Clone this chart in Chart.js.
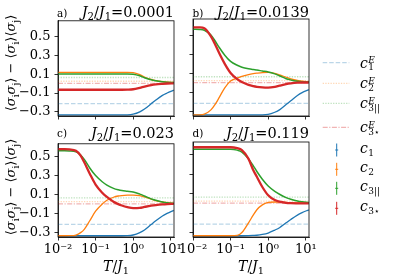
<!DOCTYPE html>
<html>
<head>
<meta charset="utf-8">
<script src="https://cdn.jsdelivr.net/npm/chart.js@4.4.1/dist/chart.umd.min.js"></script>
<style>
body { margin: 0; background: #fff; }
#fig { position: relative; width: 399px; height: 279px; overflow: hidden; font-family: 'DejaVu Serif', serif; color: #000; }
canvas { position: absolute; }
.t { position: absolute; white-space: nowrap; line-height: 1; }
.t sub { font-size: 0.7em; vertical-align: baseline; position: relative; top: 0.3em; font-style: normal; }
.ylab { position: absolute; width: 130px; height: 16px; line-height: 16px; text-align: center; font-size: 13px; transform: rotate(-90deg); white-space: nowrap; }
.xlab { position: absolute; width: 60px; text-align: center; font-size: 14px; line-height: 1; }
.lg { position: absolute; left: 360px; font-size: 14px; line-height: 1; white-space: nowrap; }
.st { position: relative; display: inline-block; width: 14px; height: 10px; }
.st span { position: absolute; left: 0.5px; font-size: 9px; line-height: 1; }
.st .u { top: -1.6px; font-style: italic; }
.st .d { top: 5.6px; font-style: normal; }
</style>
</head>
<body>
<div id="fig">
  <canvas id="pa"></canvas>
  <canvas id="pb"></canvas>
  <canvas id="pc"></canvas>
  <canvas id="pd"></canvas>
  <canvas id="leg" width="89" height="180" style="left:310px;top:40px"></canvas>

  <div class="t" style="left:57px;top:7.8px;font-size:10.5px">a)</div>
  <div class="t" style="right:225px;top:4.8px;font-size:14.5px"><i>J</i><sub>2</sub>/<i>J</i><sub>1</sub>=0.0001</div>
  <div class="t" style="left:192.5px;top:7.8px;font-size:10.5px">b)</div>
  <div class="t" style="right:90px;top:4.8px;font-size:14.5px"><i>J</i><sub>2</sub>/<i>J</i><sub>1</sub>=0.0139</div>
  <div class="t" style="left:57px;top:128px;font-size:10.5px">c)</div>
  <div class="t" style="right:225px;top:126.2px;font-size:14.5px"><i>J</i><sub>2</sub>/<i>J</i><sub>1</sub>=0.023</div>
  <div class="t" style="left:192.5px;top:128px;font-size:10.5px">d)</div>
  <div class="t" style="right:90px;top:126.2px;font-size:14.5px"><i>J</i><sub>2</sub>/<i>J</i><sub>1</sub>=0.119</div>

  <div class="ylab" style="left:-54.5px;top:55px">⟨<i>σ</i><sub style="font-size:9px">i</sub><i>σ</i><sub style="font-size:9px">j</sub>⟩ − ⟨<i>σ</i><sub style="font-size:9px">i</sub>⟩⟨<i>σ</i><sub style="font-size:9px">j</sub>⟩</div>
  <div class="ylab" style="left:-54.5px;top:179px">⟨<i>σ</i><sub style="font-size:9px">i</sub><i>σ</i><sub style="font-size:9px">j</sub>⟩ − ⟨<i>σ</i><sub style="font-size:9px">i</sub>⟩⟨<i>σ</i><sub style="font-size:9px">j</sub>⟩</div>

  <div class="xlab t" style="left:86px;top:259px"><i>T</i>/<i>J</i><sub>1</sub></div>
  <div class="xlab t" style="left:221px;top:259px"><i>T</i>/<i>J</i><sub>1</sub></div>

  <div class="lg" style="top:55.6px"><i>c</i><span class="st"><span class="u">E</span><span class="d">1</span></span></div>
  <div class="lg" style="top:76.1px"><i>c</i><span class="st"><span class="u">E</span><span class="d">2</span></span></div>
  <div class="lg" style="top:96.1px"><i>c</i><span class="st"><span class="u">E</span><span class="d">3||</span></span></div>
  <div class="lg" style="top:120.1px"><i>c</i><span class="st"><span class="u">E</span><span class="d">3⋆</span></span></div>
  <div class="lg" style="top:141px"><i>c</i><span class="st"><span class="d">1</span></span></div>
  <div class="lg" style="top:160.3px"><i>c</i><span class="st"><span class="d">2</span></span></div>
  <div class="lg" style="top:179.3px"><i>c</i><span class="st"><span class="d">3||</span></span></div>
  <div class="lg" style="top:199.3px"><i>c</i><span class="st"><span class="d">3⋆</span></span></div>
</div>

<script>
// temperatures T/J1 (shared by all panels)
const T = [0.01, 0.015, 0.02, 0.03, 0.04, 0.05, 0.07, 0.1, 0.15, 0.2, 0.3, 0.4, 0.5, 0.7, 1, 1.5, 2, 3, 4, 6, 8, 12];

// a) J2/J1 = 0.0001
const c1A  = [-0.333, -0.333, -0.333, -0.333, -0.333, -0.333, -0.333, -0.333, -0.333, -0.333, -0.333, -0.333, -0.333, -0.332, -0.325, -0.3, -0.27, -0.215, -0.175, -0.125, -0.1, -0.07];
const c2A  = [0.12, 0.12, 0.12, 0.12, 0.12, 0.12, 0.12, 0.12, 0.12, 0.12, 0.12, 0.12, 0.12, 0.12, 0.117, 0.095, 0.07, 0.045, 0.032, 0.021, 0.016, 0.012];
const c3pA = [0.103, 0.103, 0.103, 0.103, 0.103, 0.103, 0.103, 0.103, 0.103, 0.103, 0.103, 0.103, 0.103, 0.103, 0.1, 0.083, 0.063, 0.04, 0.03, 0.02, 0.015, 0.011];
const c3sA = [-0.065, -0.065, -0.065, -0.065, -0.065, -0.065, -0.065, -0.065, -0.065, -0.065, -0.065, -0.065, -0.065, -0.064, -0.06, -0.045, -0.032, -0.016, -0.008, -0.002, 0.001, 0.003];

// b) J2/J1 = 0.0139
const c1B  = [-0.333, -0.333, -0.333, -0.333, -0.333, -0.333, -0.333, -0.333, -0.333, -0.333, -0.333, -0.333, -0.333, -0.333, -0.328, -0.305, -0.28, -0.225, -0.185, -0.13, -0.1, -0.07];
const c2B  = [-0.333, -0.332, -0.325, -0.28, -0.215, -0.15, -0.05, 0.02, 0.05, 0.07, 0.088, 0.097, 0.102, 0.108, 0.11, 0.1, 0.085, 0.06, 0.043, 0.026, 0.018, 0.012];
const c3pB = [0.56, 0.558, 0.55, 0.5, 0.43, 0.37, 0.29, 0.225, 0.185, 0.165, 0.148, 0.14, 0.135, 0.125, 0.115, 0.095, 0.075, 0.045, 0.032, 0.019, 0.013, 0.01];
const c3sB = [0.58, 0.579, 0.57, 0.485, 0.39, 0.31, 0.2, 0.105, 0.04, 0.01, -0.02, -0.033, -0.04, -0.046, -0.048, -0.04, -0.028, -0.012, -0.004, 0.003, 0.005, 0.005];

// c) J2/J1 = 0.023
const c1C  = [-0.333, -0.333, -0.333, -0.333, -0.333, -0.333, -0.333, -0.333, -0.333, -0.333, -0.333, -0.333, -0.333, -0.332, -0.325, -0.3, -0.272, -0.215, -0.175, -0.125, -0.098, -0.066];
const c2C  = [-0.333, -0.333, -0.332, -0.325, -0.3, -0.265, -0.175, -0.075, 0.0, 0.04, 0.072, 0.085, 0.09, 0.094, 0.095, 0.088, 0.075, 0.052, 0.037, 0.022, 0.014, 0.007];
const c3pC = [0.56, 0.56, 0.558, 0.55, 0.515, 0.47, 0.38, 0.3, 0.235, 0.2, 0.165, 0.15, 0.142, 0.135, 0.127, 0.105, 0.085, 0.055, 0.04, 0.023, 0.015, 0.008];
const c3sC = [0.578, 0.578, 0.575, 0.56, 0.51, 0.44, 0.32, 0.205, 0.12, 0.075, 0.025, 0.0, -0.015, -0.032, -0.043, -0.04, -0.03, -0.017, -0.01, -0.003, 0.0, 0.002];

// d) J2/J1 = 0.119
const c1D  = [-0.333, -0.333, -0.333, -0.333, -0.333, -0.333, -0.333, -0.333, -0.333, -0.333, -0.332, -0.33, -0.328, -0.32, -0.305, -0.275, -0.25, -0.2, -0.165, -0.12, -0.095, -0.066];
const c2D  = [-0.333, -0.333, -0.333, -0.333, -0.333, -0.333, -0.333, -0.333, -0.33, -0.3, -0.2, -0.12, -0.065, -0.015, 0.01, 0.015, 0.013, 0.01, 0.008, 0.006, 0.005, 0.004];
const c3pD = [0.56, 0.56, 0.56, 0.56, 0.56, 0.56, 0.56, 0.56, 0.55, 0.53, 0.46, 0.39, 0.33, 0.25, 0.18, 0.125, 0.095, 0.06, 0.043, 0.025, 0.017, 0.01];
const c3sD = [0.58, 0.58, 0.58, 0.58, 0.58, 0.58, 0.58, 0.58, 0.57, 0.55, 0.46, 0.345, 0.275, 0.17, 0.085, 0.035, 0.018, 0.006, 0.003, 0.001, 0.0, 0.0];

// exact (E) reference levels: c1, c2, c3||, c3*
const refE = [-0.213, 0.025, 0.065, 0.003];

const xTicks = [0.01, 0.1, 1, 10];
const xTickLabels = ['10⁻²', '10⁻¹', '10⁰', '10¹'];
const yTicks = [-0.3, -0.1, 0.1, 0.3, 0.5];

const BLUE = '#1f77b4', ORANGE = '#ff7f0e', GREEN = '#2ca02c', RED = '#d62728';
const FONT = { family: "'DejaVu Serif', serif", size: 13 };

const frame = {
    id: 'frame',
    afterDraw(chart) {
        const a = chart.chartArea, ctx = chart.ctx;
        ctx.save();
        ctx.strokeStyle = '#000';
        ctx.lineWidth = 0.8;
        ctx.strokeRect(a.left, a.top, a.right - a.left, a.bottom - a.top);
        ctx.restore();
    }
};

function pts(vals) {
    return T.map((t, i) => ({ x: t, y: vals[i] }));
}
function flat(v) {
    return [{ x: T[0], y: v }, { x: T[T.length - 1], y: v }];
}

function panel(id, box, series, showX, showY, yMin, yMax) {
    const cv = document.getElementById(id);
    cv.width = box.r - box.l + 58 + 18;
    cv.height = box.b - box.t + 10 + 30;
    cv.style.left = (box.l - 58) + 'px';
    cv.style.top = (box.t - 10) + 'px';

    const line = (vals, col, w) => ({
        data: pts(vals), borderColor: col, borderWidth: w, pointRadius: 0,
        cubicInterpolationMode: 'monotone', fill: false
    });
    const ref = (v, col, dash) => ({
        data: flat(v), borderColor: col, borderWidth: 1.3, borderDash: dash, pointRadius: 0, fill: false
    });

    new Chart(cv.getContext('2d'), {
        type: 'line',
        data: {
            datasets: [
                line(series[3], RED, 2.3),
                line(series[2], GREEN, 1.5),
                line(series[1], ORANGE, 1.3),
                line(series[0], BLUE, 1.3),
                ref(refE[3], 'rgba(214,39,40,0.35)', [5, 1.5, 1.2, 1.5]),
                ref(refE[2], 'rgba(44,160,44,0.3)', [1.3, 1.3]),
                ref(refE[1], 'rgba(255,127,14,0.3)', [1.3, 1.3]),
                ref(refE[0], 'rgba(31,119,180,0.3)', [4.5, 2])
            ]
        },
        options: {
            responsive: false,
            animation: false,
            devicePixelRatio: 1,
            layout: { padding: { left: 0, top: 10, right: 18, bottom: 0 } },
            plugins: { legend: { display: false }, tooltip: { enabled: false } },
            scales: {
                x: {
                    type: 'logarithmic', min: 0.01, max: 12.2,
                    afterBuildTicks: s => { s.ticks = xTicks.map(v => ({ value: v })); },
                    afterFit: s => { s.height = 30; },
                    ticks: {
                        display: showX, color: '#000', font: FONT, padding: 1, maxRotation: 0, autoSkip: false,
                        callback: v => xTickLabels[xTicks.indexOf(v)]
                    },
                    grid: { drawOnChartArea: false, drawTicks: true, tickLength: 3.5, color: '#000', lineWidth: 0.8 },
                    border: { display: true, color: '#000', width: 0.8 }
                },
                y: {
                    min: yMin, max: yMax,
                    afterBuildTicks: s => { s.ticks = yTicks.map(v => ({ value: v })); },
                    afterFit: s => { s.width = 58; },
                    ticks: {
                        display: showY, color: '#000', font: FONT, padding: 4,
                        callback: v => (v < 0 ? '−' : '') + Math.abs(v).toFixed(1)
                    },
                    grid: { drawOnChartArea: false, drawTicks: true, tickLength: 3.5, color: '#000', lineWidth: 0.8 },
                    border: { display: true, color: '#000', width: 0.8 }
                }
            }
        },
        plugins: [frame]
    });
}

panel('pa', { l: 58, t: 18.5, r: 174, b: 115.5 }, [c1A, c2A, c3pA, c3sA], false, true, -0.344, 0.667);
panel('pb', { l: 193, t: 18.5, r: 309, b: 115.5 }, [c1B, c2B, c3pB, c3sB], false, false, -0.344, 0.667);
panel('pc', { l: 58, t: 141.5, r: 174, b: 236.5 }, [c1C, c2C, c3pC, c3sC], true, true, -0.346, 0.634);
panel('pd', { l: 193, t: 141.5, r: 309, b: 236.5 }, [c1D, c2D, c3pD, c3sD], true, false, -0.346, 0.634);

// legend handles (canvas offset: left 310, top 40)
const lg = document.getElementById('leg').getContext('2d');
const refStyles = [
    ['rgba(31,119,180,0.3)', [4.5, 2], 62.7],
    ['rgba(255,127,14,0.3)', [1.3, 1.3], 83.3],
    ['rgba(44,160,44,0.3)', [1.3, 1.3], 103.3],
    ['rgba(214,39,40,0.35)', [5, 1.5, 1.2, 1.5], 127.3]
];
refStyles.forEach(([col, dash, y]) => {
    lg.save();
    lg.strokeStyle = col; lg.lineWidth = 1.3; lg.setLineDash(dash);
    lg.beginPath(); lg.moveTo(322.7 - 310, y - 40); lg.lineTo(349.3 - 310, y - 40); lg.stroke();
    lg.restore();
});
[[BLUE, 150], [ORANGE, 169.3], [GREEN, 188.3], [RED, 208.3]].forEach(([col, y]) => {
    const x = 336.7 - 310, yy = y - 40;
    lg.strokeStyle = col; lg.lineWidth = 1;
    lg.beginPath(); lg.moveTo(x, yy - 6.5); lg.lineTo(x, yy + 6.5); lg.stroke();
    lg.beginPath(); lg.moveTo(x - 1.5, yy); lg.lineTo(x + 1.5, yy); lg.stroke();
});
</script>
</body>
</html>
